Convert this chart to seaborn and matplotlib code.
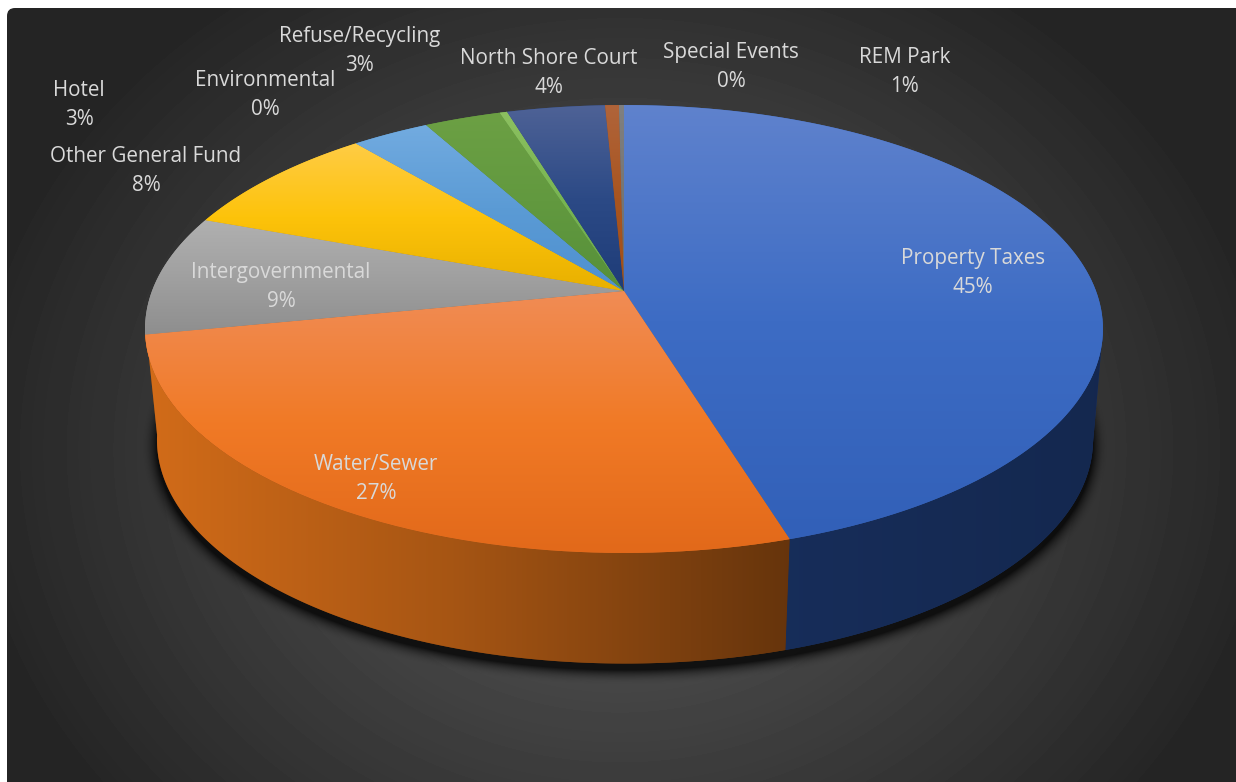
import numpy as np
import matplotlib
matplotlib.use("Agg")
import matplotlib.pyplot as plt
import matplotlib.transforms as mtransforms
import seaborn as sns
from matplotlib.colors import LinearSegmentedColormap, to_rgb
from matplotlib.patches import FancyBboxPatch, Polygon
from matplotlib.path import Path

# values
categories = ["Property Taxes", "Water/Sewer", "Intergovernmental", "Other General Fund", "Hotel",
              "Refuse/Recycling", "Environmental", "North Shore Court", "REM Park", "Special Events"]
shares = [45.25, 26.65, 8.7, 8.3, 3.1, 3.05, 0.3, 3.9, 0.55, 0.2]

# label centres in pixels, same order as categories
label_x = [973, 376, 281, 146, 79, 360, 265, 549, 905, 731]
label_y = [273, 479, 287, 171, 105, 51, 95, 73, 72, 67]

base_colors = ["#3569D0", "#EE7A1C", "#A5A5A5", "#FFC000", "#5B9BD5",
               "#70AD47", "#70AD47", "#264478", "#9E480E", "#636363"]
top_colors = ["#5F82CD", "#F08C55", "#B0B0B0", "#FFCC45", "#72ABE0",
              "#6CA044", "#8CC060", "#4E6296", "#B0643A", "#808080"]
mid_colors = ["#3D6CC4", "#F17A26", "#A0A0A0", "#FDC30A", "#5B9BD5",
              "#62993F", "#78B552", "#2C4A86", "#A85520", "#757575"]
bottom_colors = ["#3260B8", "#E2691A", "#8E8E8E", "#E8B000", "#4E90D0",
                 "#56903A", "#6AA84F", "#1E3C78", "#A34E18", "#6E6E6E"]

W, H = 1236, 782


class DiskProjection(mtransforms.Transform):
    """Perspective view of the unit disk, result in image pixels."""
    input_dims = 2
    output_dims = 2

    def __init__(self, cx, cy, a, b, k):
        super().__init__()
        self.cx, self.cy, self.a, self.b, self.k = cx, cy, a, b, k

    def transform_non_affine(self, values):
        values = np.asarray(values, dtype=float)
        d = 1 + self.k * values[:, 1]
        return np.column_stack([self.cx + self.a * values[:, 0] / d,
                                self.cy - self.b * values[:, 1] / d])

    def transform_path_non_affine(self, path):
        # flatten the arcs first, straight lines stay straight under this map
        poly = path.transformed(mtransforms.Affine2D().scale(2000)).to_polygons()[0] / 2000
        return Path(self.transform_non_affine(poly), closed=True)


top_disk = DiskProjection(624, 291, 472, 217.5, 0.1696)
bottom_disk = DiskProjection(625, 404, 462, 218, 0.16)

# brightness of the wall from left to right
shade_x = [150, 450, 790, 1100]
shade_v = [0.88, 0.70, 0.43, 0.38]

sns.set_theme(style="white")
plt.rcParams["font.family"] = ["Open Sans", "DejaVu Sans"]

fig = plt.figure(figsize=(W / 100, H / 100), dpi=100, facecolor="white")
ax = fig.add_axes([0, 0, 1, 1])
palette = sns.color_palette(base_colors)

# background, radial grey with rounded top left corner
xx, yy = np.meshgrid(np.arange(W) + 0.5, np.arange(H) + 0.5)
r = np.sqrt(((xx - 620) / 645) ** 2 + ((yy - 450) / 550) ** 2)
bg = np.maximum(93 - 55 * r, 37)
bg_im = ax.imshow(bg, cmap="gray", vmin=0, vmax=255, extent=(0, W, H, 0), zorder=0)
panel = FancyBboxPatch((15, 16), W + 40, H + 40, boxstyle="round,pad=8,rounding_size=8",
                       transform=ax.transData, fc="none", ec="none")
ax.add_patch(panel)
bg_im.set_clip_path(panel)

# shadow below the body
dx, dy = xx - 625, yy - 446
F = (dx / 468) ** 2 + (dy / 224) ** 2 - 1
grad = 2 * np.sqrt((dx / 468 ** 2) ** 2 + (dy / 224 ** 2) ** 2) + 1e-9
dist = F / grad
alpha = np.clip(1 - dist / 15, 0, 1) ** 2 * 0.75
shadow = np.zeros((H, W, 4))
shadow[..., 3] = alpha
ax.imshow(shadow, extent=(0, W, H, 0), zorder=1)

# side wall, only the two big slices face the viewer
fractions = np.array(shares) / np.sum(shares)
edges = np.concatenate([[0], np.cumsum(fractions)]) * 2 * np.pi
# the visible wall runs between the two tangent points of the silhouette
wall_start = [np.radians(100), edges[1]]
wall_end = [edges[1], np.radians(262)]
for i in [0, 1]:
    steps = np.linspace(wall_start[i], wall_end[i], 200)
    unit = np.column_stack([np.sin(steps), np.cos(steps)])
    top_pts = top_disk.transform_non_affine(unit)
    low_pts = bottom_disk.transform_non_affine(unit)
    outline = Polygon(np.vstack([top_pts, low_pts[::-1]]), closed=True,
                      fc=np.array(to_rgb(palette[i])) * 0.5, ec="none", zorder=2)
    ax.add_patch(outline)
    x_left, x_right = min(top_pts[:, 0].min(), low_pts[:, 0].min()), max(top_pts[:, 0].max(), low_pts[:, 0].max())
    ramp_x = np.linspace(x_left, x_right, 256)
    ramp = np.interp(ramp_x, shade_x, shade_v)[None, :, None] * np.array(to_rgb(palette[i]))
    im = ax.imshow(ramp, extent=(x_left, x_right, 700, 300), interpolation="bilinear", zorder=2.5)
    im.set_clip_path(outline)

# top face
wedges, _ = ax.pie(fractions, colors=palette, startangle=90, counterclock=False, radius=1)
for wedge, c_top, c_mid, c_bottom in zip(wedges, top_colors, mid_colors, bottom_colors):
    wedge.set_transform(top_disk + ax.transData)
    wedge.set_zorder(3)
    wedge.set_facecolor(c_mid)
    wedge.set_edgecolor("none")
    verts = top_disk.transform_path_non_affine(wedge.get_path()).vertices
    cmap = LinearSegmentedColormap.from_list("face", [(0, c_top), (0.5, c_mid), (1, c_bottom)])
    im = ax.imshow(np.linspace(0, 1, 128)[:, None], cmap=cmap, interpolation="bilinear",
                   extent=(verts[:, 0].min(), verts[:, 0].max(), verts[:, 1].max(), verts[:, 1].min()),
                   zorder=4)
    im.set_clip_path(wedge)

for name, share, x, y in zip(categories, shares, label_x, label_y):
    ax.text(x, y, f"{name}\n{round(share)}%", ha="center", va="center", color="#D9D9D9",
            fontsize=14.9, linespacing=1.45, zorder=5)

ax.set_aspect("auto")
ax.set_xlim(0, W)
ax.set_ylim(H, 0)
ax.axis("off")
fig.savefig("out.png", dpi=100, facecolor="white")
